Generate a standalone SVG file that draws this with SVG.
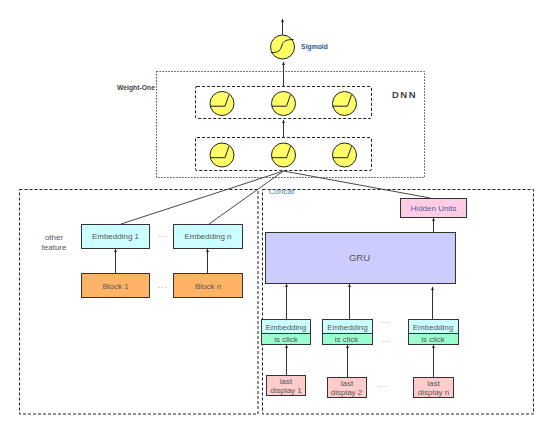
<svg xmlns="http://www.w3.org/2000/svg" width="552" height="434" viewBox="0 0 552 434">
<style>
text{font-family:"Liberation Sans",Arial,sans-serif;font-size:8px;fill:#555;text-anchor:middle}
.b{fill:none;stroke:#222;stroke-width:1;stroke-dasharray:3 2}
.d{fill:none;stroke:#222;stroke-width:1;stroke-dasharray:1.2 1.8}
.c{fill:#ffff66;stroke:#222;stroke-width:1}
.g{fill:none;stroke:#222;stroke-width:1}
.n{stroke:#333;stroke-width:1}
.l{stroke:#333;stroke-width:.9;fill:none}
.a{stroke:#333;stroke-width:1;fill:none;marker-end:url(#h)}
.m{fill:#888;font-size:8px;letter-spacing:.6px}
.s{font-weight:bold;font-size:6.800px}
</style>
<defs>
<marker id="h" markerUnits="userSpaceOnUse" markerWidth="4" markerHeight="4" refX="3" refY="1.500" orient="auto"><path d="M0 0L3 1.500L0 3Z" fill="#222"/></marker>
<symbol id="ramp" overflow="visible"><circle class="c" cx="0" cy="0" r="12"/><path class="g" d="M-12 2.700H3L7-8.700"/></symbol>
</defs>
<g id="dnn-box"><rect class="d" x="156.500" y="71.500" width="268" height="106"/><text x="404.500" y="98" style="font-size:9.500px;font-weight:bold;letter-spacing:1.500px;fill:#444">DNN</text></g>
<g id="weight-one"><text class="s" x="136" y="89.500" style="fill:#444">Weight-One</text></g>
<g id="layer-2"><rect class="b" x="195.500" y="86.500" width="176" height="32" rx="1.500"/><use href="#ramp" x="222" y="103.500"/><use href="#ramp" x="283.500" y="103.500"/><use href="#ramp" x="344.500" y="103.500"/></g>
<g id="layer-1"><rect class="b" x="195.500" y="137.500" width="176" height="33" rx="1.500"/><use href="#ramp" x="222" y="155"/><use href="#ramp" x="283.500" y="155"/><use href="#ramp" x="344.500" y="155"/></g>
<g id="sigmoid"><circle class="c" cx="282.500" cy="47" r="12"/><path class="g" d="M271 52.500C279 52.500 280 51 282 45C283.500 41 286 39.500 293.500 39.500"/><text class="s" x="314.500" y="49" style="fill:#2b5a8a">Sigmoid</text></g>
<g id="left-panel"><rect class="b" x="19.500" y="189.500" width="238.500" height="224.500"/></g>
<g id="right-panel"><rect class="b" x="262.500" y="189.500" width="271" height="224.500"/><text x="281.500" y="194" style="fill:#4a7f9a">Concat</text></g>
<g id="other-feature"><text x="54" y="240">other</text><text x="54" y="250">feature</text></g>
<g id="embedding-1"><rect class="n" x="81.500" y="224.500" width="68" height="24" fill="#ccffff"/><text x="115.500" y="238.500">Embedding 1</text></g>
<g id="embedding-n"><rect class="n" x="173.500" y="224.500" width="69" height="24" fill="#ccffff"/><text x="208" y="238.500">Embedding n</text></g>
<g id="block-1"><rect class="n" x="81.500" y="273.500" width="68" height="24" fill="#ffb366"/><text x="115.500" y="288.500">Block 1</text></g>
<g id="block-n"><rect class="n" x="173.500" y="273.500" width="69" height="24" fill="#ffb366"/><text x="208" y="288.500">Block n</text></g>
<g id="hidden-units"><rect class="n" x="400.500" y="198.500" width="66" height="19" fill="#ffcce6"/><text x="433.500" y="211" style="fill:#5a5a9a">Hidden Units</text></g>
<g id="gru"><rect class="n" x="265.500" y="232.500" width="190" height="51" fill="#ccccff"/><text x="359.500" y="261" style="font-size:9.500px">GRU</text></g>
<g id="emb-click-1"><rect class="n" x="261.500" y="319.500" width="49" height="14" fill="#ccffff"/><rect class="n" x="261.500" y="333.500" width="49" height="11" fill="#99ffcc"/><text x="286" y="329.500">Embedding</text><text x="286" y="341.500">is click</text></g>
<g id="emb-click-2"><rect class="n" x="322.500" y="319.500" width="50" height="14" fill="#ccffff"/><rect class="n" x="322.500" y="333.500" width="50" height="11" fill="#99ffcc"/><text x="347.500" y="329.500">Embedding</text><text x="346.500" y="341.500">is click</text></g>
<g id="emb-click-n"><rect class="n" x="408.500" y="319.500" width="50" height="14" fill="#ccffff"/><rect class="n" x="408.500" y="333.500" width="50" height="11" fill="#99ffcc"/><text x="433" y="329.500">Embedding</text><text x="433" y="342">is click</text></g>
<g id="last-display-1"><rect class="n" x="266.500" y="375.500" width="39" height="20" fill="#ffcccc"/><text x="286" y="383.500">last</text><text x="286" y="393">display 1</text></g>
<g id="last-display-2"><rect class="n" x="327.500" y="377.500" width="39" height="20" fill="#ffcccc"/><text x="347" y="385.500">last</text><text x="346.500" y="395">display 2</text></g>
<g id="last-display-n"><rect class="n" x="413.500" y="377.500" width="40" height="20" fill="#ffcccc"/><text x="433.500" y="385.500">last</text><text x="433.500" y="395">display n</text></g>
<g id="connectors">
<path class="a" d="M282.500 35V19"/><path class="a" d="M283.500 86V62"/><path class="a" d="M283.500 137V120"/>
<path class="l" d="M283.500 171L121 224"/><path class="l" d="M283.500 171L209 224"/><path class="l" d="M283.500 171L430 198"/>
<path class="a" d="M115.500 273V249"/><path class="a" d="M207.500 273V249"/>
<path class="a" d="M433.500 232V218"/>
<path class="a" d="M286.500 319V284"/><path class="a" d="M349.500 319V284"/><path class="a" d="M432.500 319V287"/>
<path class="a" d="M286.500 375V345"/><path class="a" d="M347.500 377V345"/><path class="a" d="M433.500 377V345"/>
</g>
<g id="ellipses"><text class="m" x="163" y="238.500">···</text><text class="m" x="163" y="289.500">···</text><text class="m" x="386" y="324.500">···</text><text class="m" x="386" y="343.500">···</text><text class="m" x="383" y="388.500">···</text></g>
</svg>
